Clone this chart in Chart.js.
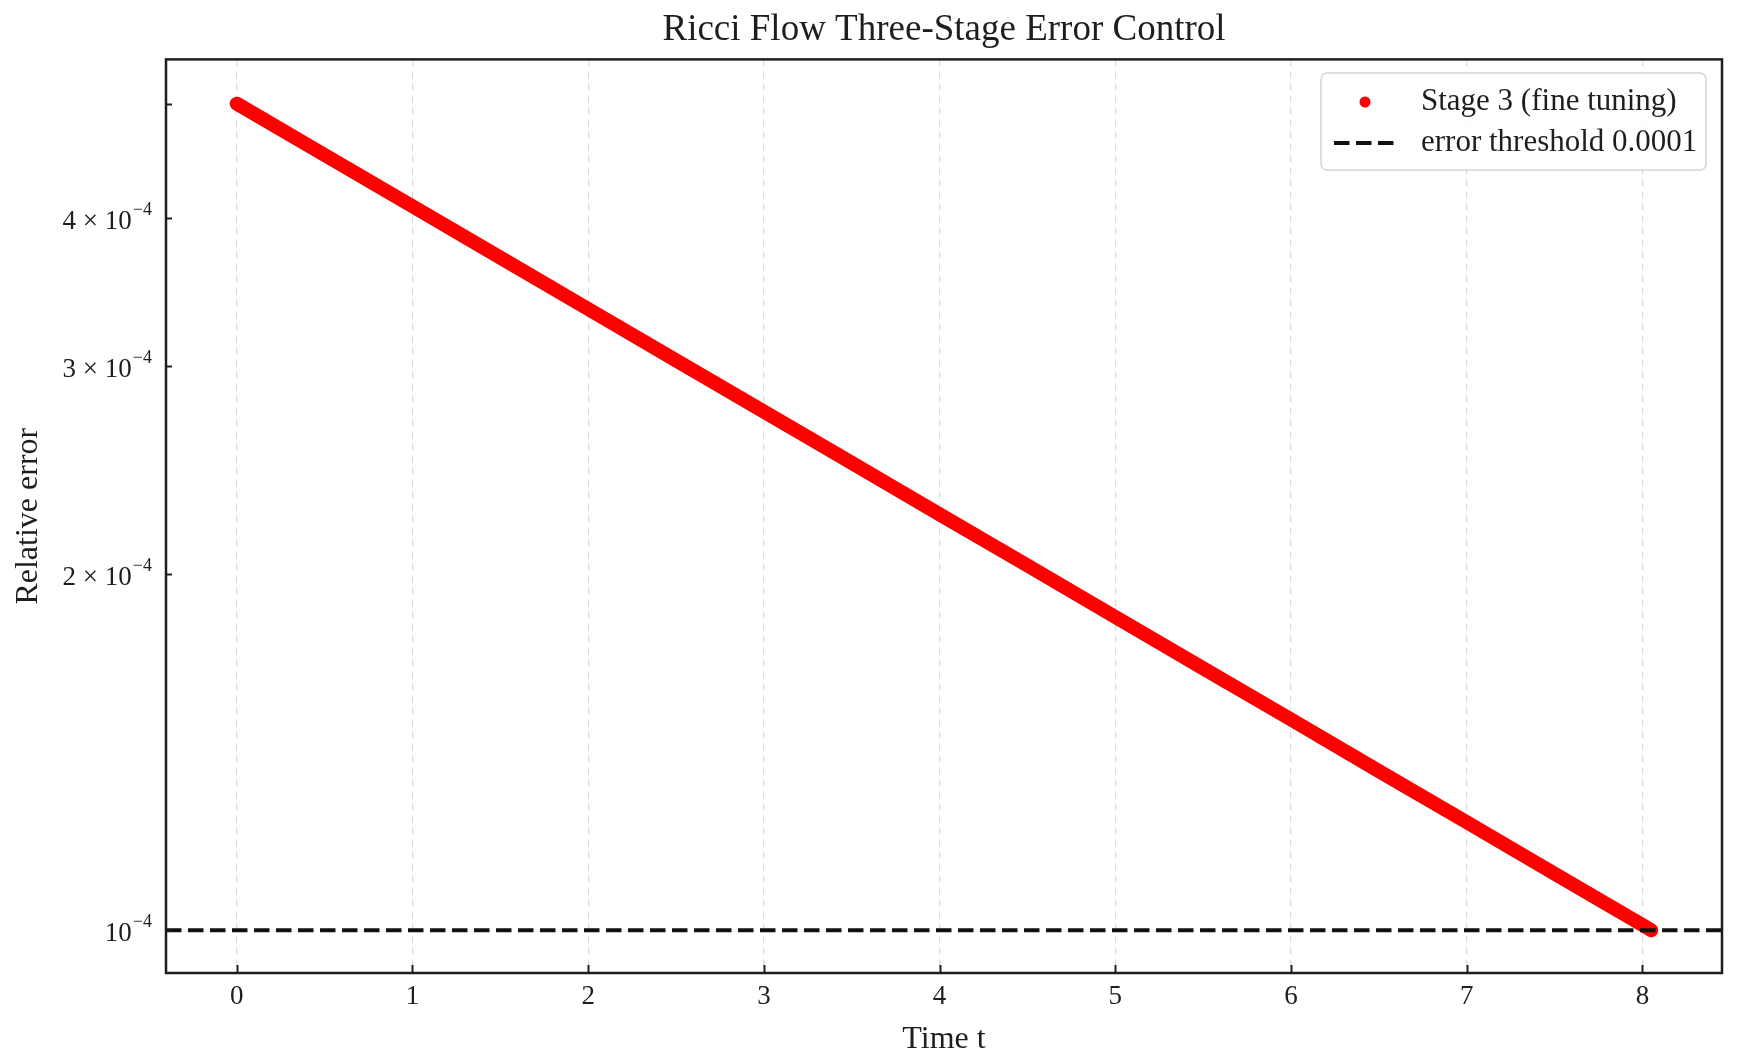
<!DOCTYPE html>
<html>
<head>
<meta charset="utf-8">
<script src="https://cdn.jsdelivr.net/npm/chart.js@4.4.1/dist/chart.umd.min.js"></script>
<style>
  html, body { margin: 0; padding: 0; background: #fff; }
  #wrap { width: 1739px; height: 1064px; }
</style>
</head>
<body>
<div id="wrap"><canvas id="chart" width="1739" height="1064"></canvas></div>
<script>
// values (log-linear decay down to the threshold)
const times = [0, 0.5, 1, 1.5, 2, 2.5, 3, 3.5, 4, 4.5, 5, 5.5, 6, 6.5, 7, 7.5, 8, 8.05];
const stage3Error = [5.000e-4, 4.524e-4, 4.094e-4, 3.705e-4, 3.352e-4, 3.033e-4, 2.745e-4, 2.484e-4,
  2.247e-4, 2.034e-4, 1.840e-4, 1.665e-4, 1.507e-4, 1.363e-4, 1.234e-4, 1.116e-4, 1.010e-4, 1.000e-4];
const thresholdValue = 1e-4;

const xTickValues = [0, 1, 2, 3, 4, 5, 6, 7, 8];
const yTickValues = [1e-4, 2e-4, 3e-4, 4e-4, 5e-4];
const yTickLabels = ["10^−4", "2 × 10^−4", "3 × 10^−4", "4 × 10^−4", ""];

const xRange = [-0.4025, 8.4525];
const yRange = [0.92e-4, 5.45e-4];

const FONT = "'Liberation Serif', 'Times New Roman', serif";
const INK = '#1e1e1e';

// frame, inward tick marks and mathtext-like y tick labels
const axesPlugin = {
  id: 'axesDecor',
  afterDatasetsDraw(chart) {
    const { ctx, chartArea: a, scales } = chart;
    ctx.save();
    ctx.strokeStyle = INK;
    ctx.lineWidth = 2;
    // x ticks (inside)
    xTickValues.forEach(v => {
      const px = Math.round(scales.x.getPixelForValue(v)) + 0.5;
      ctx.beginPath();
      ctx.moveTo(px, a.bottom);
      ctx.lineTo(px, a.bottom - 8);
      ctx.stroke();
    });
    // y ticks (inside)
    yTickValues.forEach(v => {
      const py = Math.round(scales.y.getPixelForValue(v)) + 0.5;
      ctx.beginPath();
      ctx.moveTo(a.left, py);
      ctx.lineTo(a.left + 6, py);
      ctx.stroke();
    });
    ctx.lineWidth = 2.5;
    ctx.strokeRect(a.left, a.top, a.right - a.left, a.bottom - a.top);
    ctx.restore();
  },
  afterDraw(chart) {
    const { ctx, chartArea: a, scales } = chart;
    ctx.save();
    ctx.fillStyle = INK;
    ctx.textBaseline = 'middle';
    ctx.textAlign = 'right';
    yTickValues.forEach((v, i) => {
      const label = yTickLabels[i];
      if (!label) return;
      const [base, exp] = label.split('^');
      const py = scales.y.getPixelForValue(v);
      const right = a.left - 14;
      ctx.font = '18px ' + FONT;
      ctx.fillText(exp, right, py - 8);
      const ew = ctx.measureText(exp).width;
      ctx.font = '27px ' + FONT;
      ctx.fillText(base, right - ew - 1, py + 4);
    });

    // legend box
    const lx = 1321, ly = 73, lw = 385, lh = 97;
    ctx.beginPath();
    ctx.roundRect(lx, ly, lw, lh, 6);
    ctx.fillStyle = 'rgba(255,255,255,0.85)';
    ctx.fill();
    ctx.strokeStyle = '#d4d4d4';
    ctx.lineWidth = 1.5;
    ctx.stroke();

    const ds = chart.data.datasets;
    const s3 = ds.find(d => d.id === 'stage3');
    const th = ds.find(d => d.id === 'threshold');
    // marker row
    ctx.beginPath();
    ctx.arc(1365, 102, 5.5, 0, Math.PI * 2);
    ctx.fillStyle = s3.borderColor;
    ctx.fill();
    // dashed row
    ctx.beginPath();
    ctx.setLineDash(th.borderDash);
    ctx.strokeStyle = th.borderColor;
    ctx.lineWidth = th.borderWidth;
    ctx.moveTo(1334, 143);
    ctx.lineTo(1395, 143);
    ctx.stroke();
    ctx.setLineDash([]);

    ctx.fillStyle = INK;
    ctx.textAlign = 'left';
    ctx.font = '31px ' + FONT;
    ctx.fillText(s3.label, 1421, 102);
    ctx.fillText(th.label, 1421, 143);
    ctx.restore();
  }
};

new Chart(document.getElementById('chart'), {
  type: 'line',
  data: {
    datasets: [
      {
        id: 'threshold',
        label: 'error threshold 0.0001',
        data: xRange.map(x => ({ x: x, y: thresholdValue })),
        borderColor: '#111111',
        borderWidth: 4,
        borderDash: [15.5, 6.5],
        pointRadius: 0,
        order: 0
      },
      {
        id: 'stage3',
        label: 'Stage 3 (fine tuning)',
        data: times.map((t, i) => ({ x: t, y: stage3Error[i] })),
        borderColor: '#ff0000',
        borderWidth: 14,
        borderCapStyle: 'round',
        borderJoinStyle: 'round',
        pointRadius: 0,
        tension: 0,
        order: 1
      }
    ]
  },
  options: {
    responsive: false,
    animation: false,
    layout: { padding: { left: 0, right: 17, top: 0, bottom: 0 } },
    plugins: {
      legend: { display: false },
      tooltip: { enabled: false },
      title: {
        display: true,
        fullSize: false,
        text: 'Ricci Flow Three-Stage Error Control',
        color: INK,
        font: { family: FONT, size: 37, weight: 'normal', lineHeight: 1.2 },
        padding: { top: 8, bottom: 7 }
      }
    },
    scales: {
      x: {
        type: 'linear',
        min: xRange[0],
        max: xRange[1],
        afterBuildTicks: s => { s.ticks = xTickValues.map(v => ({ value: v })); },
        afterFit: s => { s.height = 91; },
        grid: { color: '#dcdcdc', lineWidth: 1.2, drawTicks: false },
        border: { display: false, dash: [7, 5] },
        ticks: {
          color: INK,
          font: { family: FONT, size: 27 },
          padding: 8,
          maxRotation: 0
        },
        title: {
          display: true,
          text: 'Time t',
          color: INK,
          font: { family: FONT, size: 32, lineHeight: 1.2 },
          padding: 5
        }
      },
      y: {
        type: 'logarithmic',
        min: yRange[0],
        max: yRange[1],
        afterFit: s => { s.width = 166; },
        grid: { display: false },
        border: { display: false },
        ticks: { display: false },
        title: {
          display: true,
          text: 'Relative error',
          color: INK,
          font: { family: FONT, size: 32, lineHeight: 1.2 },
          padding: 9
        }
      }
    }
  },
  plugins: [axesPlugin]
});
</script>
</body>
</html>
